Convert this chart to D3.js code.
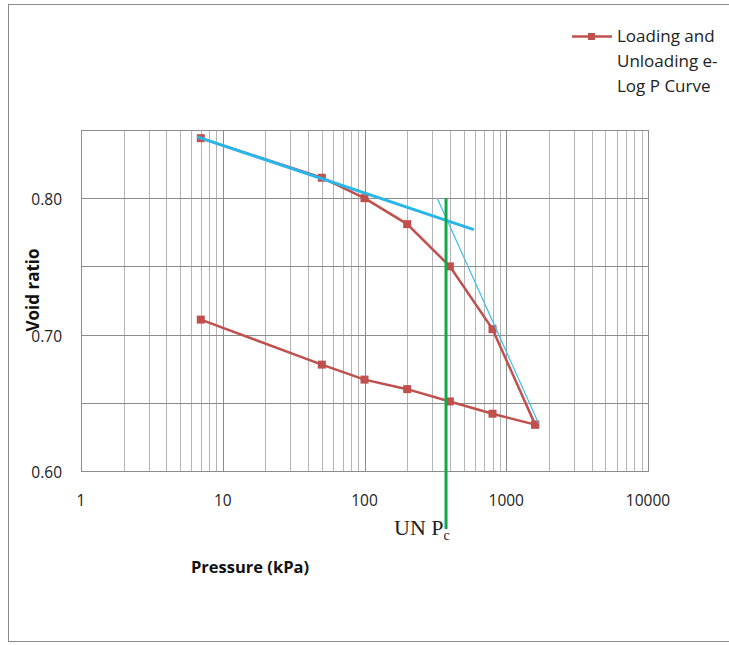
<!DOCTYPE html>
<html><head><meta charset="utf-8">
<script src="https://cdn.jsdelivr.net/npm/d3@7"></script>
<style>body{margin:0;background:#fff}svg{display:block}</style>
</head><body>
<script>
const loadP = [7, 50, 100, 200, 400, 800, 1600];
const loadE = [0.844, 0.815, 0.800, 0.781, 0.750, 0.704, 0.634];
const unloadP = [1600, 800, 400, 200, 100, 50, 7];
const unloadE = [0.634, 0.642, 0.651, 0.660, 0.667, 0.678, 0.711];
const tangentP = [6.6, 590];
const tangentE = [0.845, 0.777];
const steepP = [326, 1690];
const steepE = [0.800, 0.635];
const pcP = 376;
const pcE = [0.800, 0.5575];
const xTicks = [1, 10, 100, 1000, 10000];
const yTicks = [0.60, 0.70, 0.80];
const yGrid = [0.65, 0.70, 0.75, 0.80];
const legendLines = ["Loading and", "Unloading e-", "Log P Curve"];

const W = 729, H = 645;
const svg = d3.select("body").append("svg").attr("width", W).attr("height", H);
svg.append("rect").attr("x", 8.5).attr("y", 4.5).attr("width", 740).attr("height", 637)
  .attr("fill", "#fff").attr("stroke", "#8a8a8a").attr("stroke-width", 1);

const L = 81, R = 648, T = 130, B = 471;
const x = d3.scaleLog().domain([1, 10000]).range([L, R]);
const y = d3.scaleLinear().domain([0.6, 0.85]).range([B, T]);

const g = svg.append("g");
const minors = [];
for (let d = 1; d < 10000; d *= 10) for (let k = 2; k <= 9; k++) minors.push(d * k);
g.selectAll(".vmin").data(minors).join("line")
  .attr("x1", d => Math.round(x(d)) + 0.5).attr("x2", d => Math.round(x(d)) + 0.5)
  .attr("y1", T).attr("y2", B).attr("stroke", "#b4b4b4").attr("stroke-width", 1);
g.selectAll(".vmaj").data(xTicks).join("line")
  .attr("x1", d => Math.round(x(d)) + 0.5).attr("x2", d => Math.round(x(d)) + 0.5)
  .attr("y1", T).attr("y2", B).attr("stroke", "#8c8c8c").attr("stroke-width", 1);
g.selectAll(".hg").data(yGrid).join("line")
  .attr("x1", L).attr("x2", R)
  .attr("y1", d => Math.round(y(d)) + 0.5).attr("y2", d => Math.round(y(d)) + 0.5)
  .attr("stroke", "#8c8c8c").attr("stroke-width", 1);
g.append("rect").attr("x", L + 0.5).attr("y", T + 0.5).attr("width", R - L).attr("height", B - T)
  .attr("fill", "none").attr("stroke", "#8c8c8c");

const font = "'Open Sans', 'Liberation Sans', sans-serif";
svg.selectAll(".xt").data(xTicks).join("text")
  .attr("x", d => x(d)).attr("y", 506).attr("text-anchor", "middle")
  .attr("font-family", font).attr("font-size", 15.5).attr("fill", "#222")
  .text(d => d);
svg.selectAll(".yt").data(yTicks).join("text")
  .attr("x", 62).attr("y", d => y(d) + 7).attr("text-anchor", "end")
  .attr("font-family", font).attr("font-size", 15.5).attr("fill", "#222")
  .text(d => d.toFixed(2));

svg.append("text").attr("transform", "translate(39,290) rotate(-90)")
  .attr("text-anchor", "middle").attr("font-family", font).attr("font-weight", "bold")
  .attr("font-size", 17).attr("fill", "#111").text("Void ratio");
svg.append("text").attr("x", 250).attr("y", 573).attr("text-anchor", "middle")
  .attr("font-family", font).attr("font-weight", "bold")
  .attr("font-size", 16.5).attr("fill", "#111").text("Pressure (kPa)");

const line = d3.line().x(d => x(d[0])).y(d => y(d[1]));
const red = "#C0504D";
const loadPts = loadP.map((p, i) => [p, loadE[i]]);
const unloadPts = unloadP.map((p, i) => [p, unloadE[i]]);
[loadPts, unloadPts].forEach(pts => {
  svg.append("path").attr("d", line(pts)).attr("fill", "none")
    .attr("stroke", red).attr("stroke-width", 2.5);
});
[loadPts, unloadPts].forEach(pts => {
  svg.selectAll(null).data(pts).join("rect")
    .attr("x", d => x(d[0]) - 4).attr("y", d => y(d[1]) - 4)
    .attr("width", 8).attr("height", 8).attr("fill", red);
});

svg.append("path").attr("d", line(tangentP.map((p, i) => [p, tangentE[i]])))
  .attr("stroke", "#29B6EA").attr("stroke-width", 3).attr("fill", "none");
svg.append("path").attr("d", line(steepP.map((p, i) => [p, steepE[i]])))
  .attr("stroke", "#3DBDEB").attr("stroke-width", 1.2).attr("fill", "none");
svg.append("line").attr("x1", x(pcP)).attr("x2", x(pcP))
  .attr("y1", y(pcE[0])).attr("y2", y(pcE[1]))
  .attr("stroke", "#12A84A").attr("stroke-width", 3);

const t = svg.append("text").attr("x", 394).attr("y", 535)
  .attr("font-family", "'Liberation Serif', 'DejaVu Serif', serif")
  .attr("font-size", 22).attr("fill", "#222");
t.append("tspan").text("UN P");
t.append("tspan").attr("font-size", 14).attr("dy", 5).text("c");

svg.append("line").attr("x1", 572).attr("x2", 612).attr("y1", 36.5).attr("y2", 36.5)
  .attr("stroke", red).attr("stroke-width", 2.5);
svg.append("rect").attr("x", 588).attr("y", 33).attr("width", 7).attr("height", 7).attr("fill", red);
svg.selectAll(".lg").data(legendLines).join("text")
  .attr("x", 617).attr("y", (d, i) => 42 + i * 25)
  .attr("font-family", font).attr("font-size", 17).attr("fill", "#222")
  .text(d => d);
</script>
</body></html>
